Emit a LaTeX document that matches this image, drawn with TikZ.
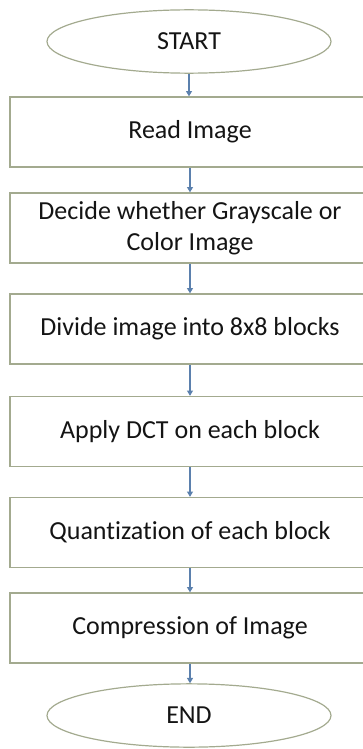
\documentclass[tikz,border=0pt]{standalone}
\usepackage{fontspec}
\setmainfont{Carlito}[Ligatures=NoCommon]
\usepackage{xcolor}
\usetikzlibrary{arrows.meta,positioning,shapes.geometric}
\definecolor{FlowEdge}{HTML}{A3AA8F}
\definecolor{FlowArrow}{HTML}{5B80AD}
\definecolor{FlowText}{HTML}{141414}
\tikzset{
  stepbox/.style={draw=FlowEdge,line width=1pt,minimum width=270pt,minimum height=52.5pt,inner sep=0pt,align=center,text=FlowText,font=\fontsize{19.5}{23.5}\selectfont},
  terminal/.style={ellipse,draw=FlowEdge,line width=0.9pt,minimum width=213pt,minimum height=47.5pt,inner sep=0pt,text=FlowText,font=\fontsize{19.5}{23.5}\selectfont},
  flowarrow/.style={FlowArrow,line width=0.8pt,-{Triangle[width=4.5pt,length=4pt]}}
}

\begin{document}
\begin{tikzpicture}[x=0.75pt,y=-0.75pt]
\useasboundingbox (0,0) rectangle (362,749);
\node[terminal] (start) at (189,41.5) {START};
\node[stepbox] (read) at (190,132) {Read Image};
\node[stepbox] (decide) at (190,228) {Decide whether Grayscale or\\Color Image};
\node[stepbox] (divide) at (190,329) {Divide image into 8x8 blocks};
\node[stepbox] (dct) at (190,431.5) {Apply DCT on each block};
\node[stepbox] (quant) at (190,532.5) {Quantization of each block};
\node[stepbox] (compress) at (190,628) {Compression of Image};
\node[terminal] (stop) at (189,715.5) {END};
% arrows down the chain
\draw[flowarrow] (start.south) -- (start.south |- read.north);
\draw[flowarrow] (read.south) -- (decide.north);
\draw[flowarrow] (decide.south) -- (divide.north);
\draw[flowarrow] (divide.south) -- (dct.north);
\draw[flowarrow] (dct.south) -- (quant.north);
\draw[flowarrow] (quant.south) -- (compress.north);
\draw[flowarrow] (compress.south) -- (compress.south |- stop.north);
\end{tikzpicture}
\end{document}
